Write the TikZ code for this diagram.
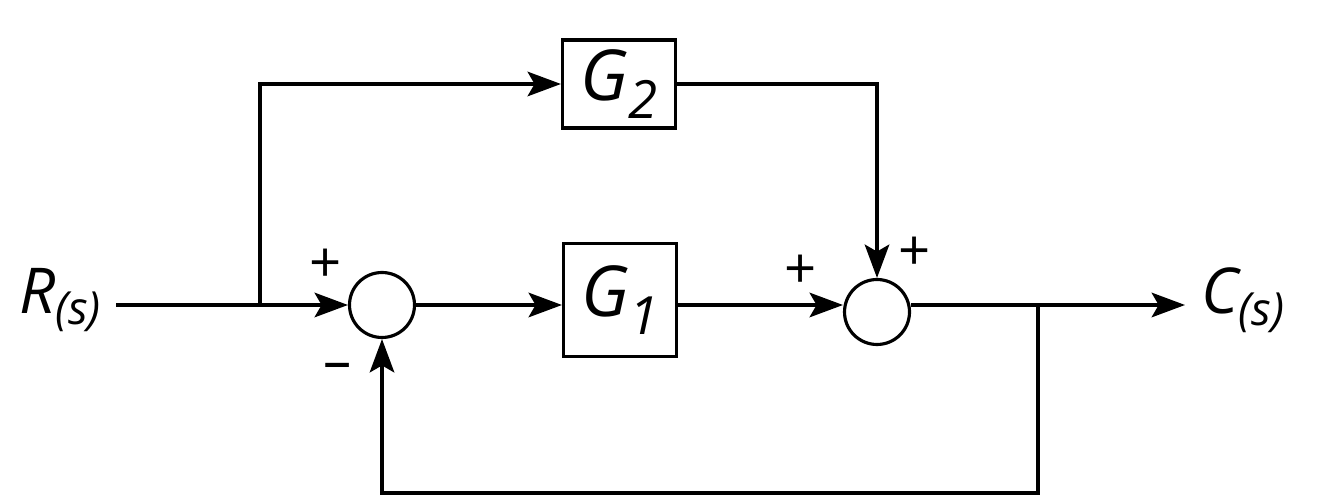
\documentclass[tikz,border=0pt]{standalone}
\usepackage{fontspec}
\setmainfont{Open Sans}
\usetikzlibrary{arrows.meta}
\begin{document}
\begin{tikzpicture}[x=0.02cm,y=-0.02cm,
  line width=1.8pt,
  sig/.style={-{Stealth[length=19pt,width=14pt,inset=4pt]}},
  blk/.style={draw,line width=1.8pt,minimum width=2.26cm,minimum height=2.26cm,inner sep=0pt,font=\fontsize{40}{44}\selectfont\itshape},
  sumc/.style={draw,circle,line width=1.8pt,minimum size=1.3cm,inner sep=0pt},
  lbl/.style={font=\fontsize{36}{40}\selectfont\itshape,inner sep=2pt},
  sgn/.style={font=\fontsize{32}{34}\selectfont,inner sep=0pt}]
\useasboundingbox (0,0) rectangle (1317,502);
\node[lbl] (R) at (60,300) {R\raisebox{-0.35ex}{\fontsize{26}{28}\selectfont(s)}};
\node[lbl,anchor=west] (C) at (1196,300) {C\raisebox{-0.35ex}{\fontsize{26}{28}\selectfont(s)}};
\node[sumc] (s1) at (382,305) {};
\node[sumc] (s2) at (877,312) {};
\node[blk] (G1) at (620,300) {G\raisebox{-0.5ex}{\fontsize{30}{32}\selectfont 1}};
\node[blk,minimum height=1.76cm] (G2) at (619,84) {G\raisebox{-0.5ex}{\fontsize{30}{32}\selectfont 2}};
\coordinate (b1) at (260,305);
\coordinate (b2) at (1038,305);
\coordinate (bot) at (1038,493);
\coordinate (Cin) at (1185,305);
\draw (R.east |- b1) ++(10,0) coordinate (r0);
\draw[sig] (r0) -- (s1.west);
\draw[sig] (b1) |- (G2.west);
\draw[sig] (G2.east) -| (s2.north);
\draw[sig] (s1.east) -- (s1.east -| G1.west);
\draw[sig] (G1.east |- s1.east) -- (s2.west |- s1.east);
\draw[sig] (s2.east |- b2) -- (Cin);
\draw[sig] (b2) -- (bot) -| (s1.south);
\node[sgn] (p1) at (326,266) {+};
\node[sgn] (m1) at (338,372) {\textendash};
\node[sgn] (p2) at (801,272) {+};
\node[sgn] (p3) at (915,254) {+};
\end{tikzpicture}
\end{document}
